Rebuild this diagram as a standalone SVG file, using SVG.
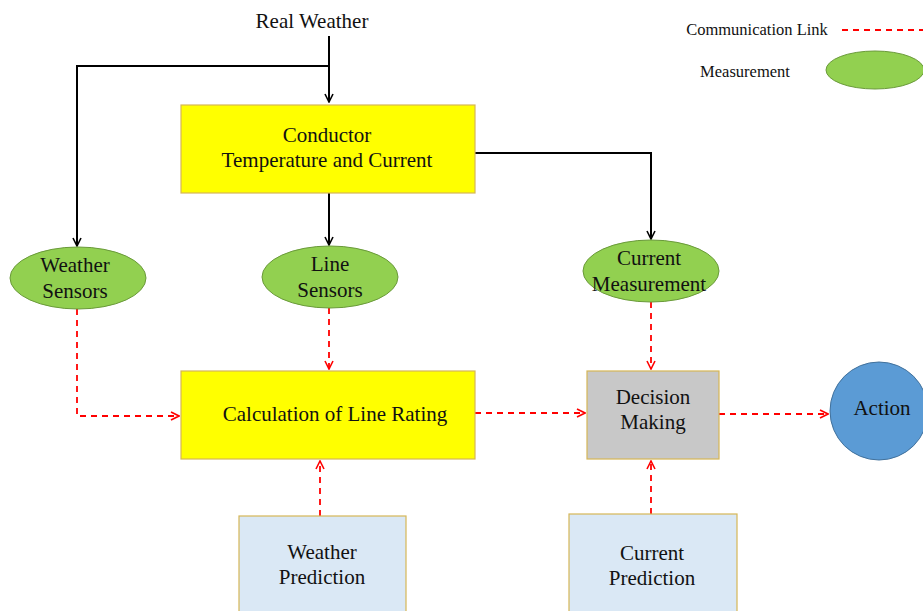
<svg xmlns="http://www.w3.org/2000/svg" width="923" height="611" viewBox="0 0 923 611">
<defs>
<marker id="ab" viewBox="0 0 10 10" refX="9" refY="5" markerWidth="10" markerHeight="10" markerUnits="userSpaceOnUse" orient="auto">
<path d="M1,1 L9,5 L1,9" fill="none" stroke="#000" stroke-width="1.6"/>
</marker>
<marker id="ar" viewBox="0 0 10 10" refX="9" refY="5" markerWidth="10" markerHeight="10" markerUnits="userSpaceOnUse" orient="auto">
<path d="M1,1 L9,5 L1,9" fill="none" stroke="#ff0000" stroke-width="1.6"/>
</marker>
</defs>
<style>
text{font-family:"Liberation Serif","Times New Roman",serif;fill:#111;text-anchor:middle}
.t{font-size:21px}
.l{font-size:16.5px}
.blk{fill:none;stroke:#000;stroke-width:2}
.red{fill:none;stroke:#ff0000;stroke-width:1.8;stroke-dasharray:6,5}
.yel{fill:#ffff00;stroke:#d6b656;stroke-width:1.2}
.ell{fill:#92d050;stroke:#6a9a3a;stroke-width:1}
.gry{fill:#c8c8c8;stroke:#d6b656;stroke-width:1.2}
.blu{fill:#dae8f5;stroke:#d6b656;stroke-width:1.2}
</style>
<rect width="923" height="611" fill="#fff"/>
<g id="legend">
<text class="l" x="757" y="35">Communication Link</text>
<line class="red" x1="842" y1="30" x2="923" y2="30"/>
<text class="l" x="745" y="77">Measurement</text>
<ellipse class="ell" cx="875" cy="70" rx="49" ry="19"/>
</g>
<g id="realWeather"><text class="t" x="312" y="28">Real Weather</text></g>
<g id="connectors">
<path class="blk" d="M329,36 V102" marker-end="url(#ab)"/>
<path class="blk" d="M329,66 H77 V246" marker-end="url(#ab)"/>
<path class="blk" d="M329,193 V245" marker-end="url(#ab)"/>
<path class="blk" d="M475,153 H651 V239" marker-end="url(#ab)"/>
<path class="red" d="M77,309 V416 H179" marker-end="url(#ar)"/>
<path class="red" d="M329,308 V369" marker-end="url(#ar)"/>
<path class="red" d="M475,413 H585" marker-end="url(#ar)"/>
<path class="red" d="M651,302 V369" marker-end="url(#ar)"/>
<path class="red" d="M719,414 H828" marker-end="url(#ar)"/>
<path class="red" d="M320,516 V461" marker-end="url(#ar)"/>
<path class="red" d="M651,514 V461" marker-end="url(#ar)"/>
</g>
<g id="conductor">
<rect class="yel" x="181" y="105" width="294" height="88"/>
<text class="t" x="327" y="142">Conductor</text>
<text class="t" x="327" y="167">Temperature and Current</text>
</g>
<g id="weatherSensors">
<ellipse class="ell" cx="78" cy="278" rx="68" ry="31"/>
<text class="t" x="75" y="272">Weather</text>
<text class="t" x="75" y="298">Sensors</text>
</g>
<g id="lineSensors">
<ellipse class="ell" cx="330" cy="277" rx="68" ry="31"/>
<text class="t" x="330" y="271">Line</text>
<text class="t" x="330" y="297">Sensors</text>
</g>
<g id="currentMeasurement">
<ellipse class="ell" cx="651" cy="271" rx="68" ry="31"/>
<text class="t" x="649" y="265">Current</text>
<text class="t" x="649" y="291">Measurement</text>
</g>
<g id="calculation">
<rect class="yel" x="181" y="371" width="294" height="88"/>
<text class="t" x="335" y="421">Calculation of Line Rating</text>
</g>
<g id="decision">
<rect class="gry" x="587" y="371" width="132" height="88"/>
<text class="t" x="653" y="404">Decision</text>
<text class="t" x="653" y="429">Making</text>
</g>
<g id="action">
<circle cx="879" cy="411" r="49" fill="#5b9bd5" stroke="#41719c" stroke-width="1"/>
<text class="t" x="882" y="415">Action</text>
</g>
<g id="weatherPrediction">
<rect class="blu" x="239" y="516" width="167" height="100"/>
<text class="t" x="322" y="559">Weather</text>
<text class="t" x="322" y="584">Prediction</text>
</g>
<g id="currentPrediction">
<rect class="blu" x="569" y="514" width="168" height="102"/>
<text class="t" x="652" y="560">Current</text>
<text class="t" x="652" y="585">Prediction</text>
</g>
</svg>
